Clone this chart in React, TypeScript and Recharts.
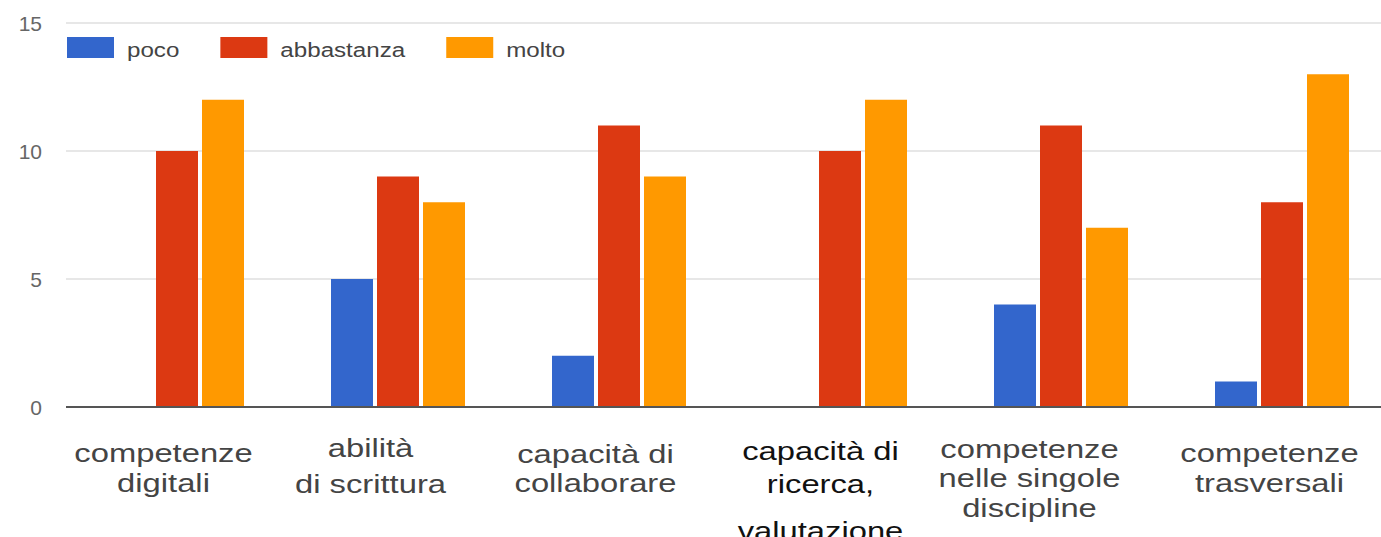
import React from 'react';
import { BarChart, Bar, XAxis, YAxis, CartesianGrid } from 'recharts';

const categories = [
  'competenze\ndigitali',
  'abilità\ndi scrittura',
  'capacità di\ncollaborare',
  'capacità di\nricerca,\nvalutazione',
  'competenze\nnelle singole\ndiscipline',
  'competenze\ntrasversali',
];
const poco = [0, 5, 2, 0, 4, 1];
const abbastanza = [10, 9, 11, 10, 11, 8];
const molto = [12, 8, 9, 12, 7, 13];
const yTicks = [0, 5, 10, 15];

const series = [
  { key: 'poco', values: poco, color: '#3366cc' },
  { key: 'abbastanza', values: abbastanza, color: '#dc3912' },
  { key: 'molto', values: molto, color: '#ff9900' },
];

const data = categories.map((name, i) => {
  const row: Record<string, string | number> = { name };
  series.forEach((s) => {
    row[s.key] = s.values[i];
  });
  return row;
});

const FONT = '"Liberation Sans", Arial, sans-serif';

// the labels in the source image are not evenly placed, so each one gets its own nudge
const labelLayout = [
  { dx: -13, lines: [55, 85], fill: '#444' },
  { dx: -27, lines: [50, 86], fill: '#444' },
  { dx: -23, lines: [56, 85], fill: '#444' },
  { dx: -19, lines: [53, 86, 133], fill: '#111' },
  { dx: -31, lines: [51, 80, 110], fill: '#444' },
  { dx: -12, lines: [55, 85], fill: '#444' },
];

const measureCtx =
  typeof document !== 'undefined' ? document.createElement('canvas').getContext('2d') : null;

function textWidth(text: string, font: string) {
  if (!measureCtx) return text.length * 11;
  measureCtx.font = font;
  return measureCtx.measureText(text).width;
}

function CategoryTick({ x, y, payload, index }: any) {
  const layout = labelLayout[index] || labelLayout[0];
  const lines = String(payload.value).split('\n');
  return (
    <g transform={`translate(${x + layout.dx},${y}) scale(1.31,1)`}>
      {lines.map((line, i) => (
        <text
          key={i}
          x={0}
          y={layout.lines[i]}
          textAnchor="middle"
          fontFamily={FONT}
          fontSize={25}
          fill={layout.fill}
        >
          {line}
        </text>
      ))}
    </g>
  );
}

function ValueTick({ y, payload }: any) {
  return (
    <text x={42} y={y} dy="0.36em" textAnchor="end" fontFamily={FONT} fontSize={21} fill="#666">
      {payload.value}
    </text>
  );
}

function LegendRow() {
  let x = 0;
  const items = series.map((s) => {
    const w = textWidth(s.key, `21px ${FONT}`) * 1.15;
    const item = (
      <g key={s.key} transform={`translate(${x},0)`}>
        <rect width={47} height={21} fill={s.color} />
        <text transform="translate(60,20) scale(1.15,1)" fontFamily={FONT} fontSize={21} fill="#444">
          {s.key}
        </text>
      </g>
    );
    x += 60 + w + 41;
    return item;
  });
  return (
    <svg
      width={700}
      height={30}
      style={{ position: 'absolute', left: 67, top: 37, pointerEvents: 'none' }}
    >
      {items}
    </svg>
  );
}

export default function App() {
  return (
    <div
      style={{
        position: 'absolute',
        left: 0,
        top: 0,
        width: 1381,
        height: 537,
        overflow: 'hidden',
        background: '#fff',
      }}
    >
      <BarChart
        width={1400}
        height={537}
        data={data}
        margin={{ top: 23, right: 8, left: 0, bottom: 0 }}
        barSize={42}
        barGap={4}
      >
        <CartesianGrid vertical={false} stroke="#cfcfcf" />
        <XAxis
          dataKey="name"
          height={130}
          interval={0}
          tickLine={false}
          tickSize={0}
          tickMargin={0}
          axisLine={{ stroke: '#555', strokeWidth: 2 }}
          tick={<CategoryTick />}
        />
        <YAxis
          width={66}
          domain={[0, 15]}
          ticks={yTicks}
          axisLine={false}
          tickLine={false}
          tick={<ValueTick />}
        />
        {series.map((s) => (
          <Bar key={s.key} dataKey={s.key} name={s.key} fill={s.color} isAnimationActive={false} />
        ))}
      </BarChart>
      <LegendRow />
    </div>
  );
}
